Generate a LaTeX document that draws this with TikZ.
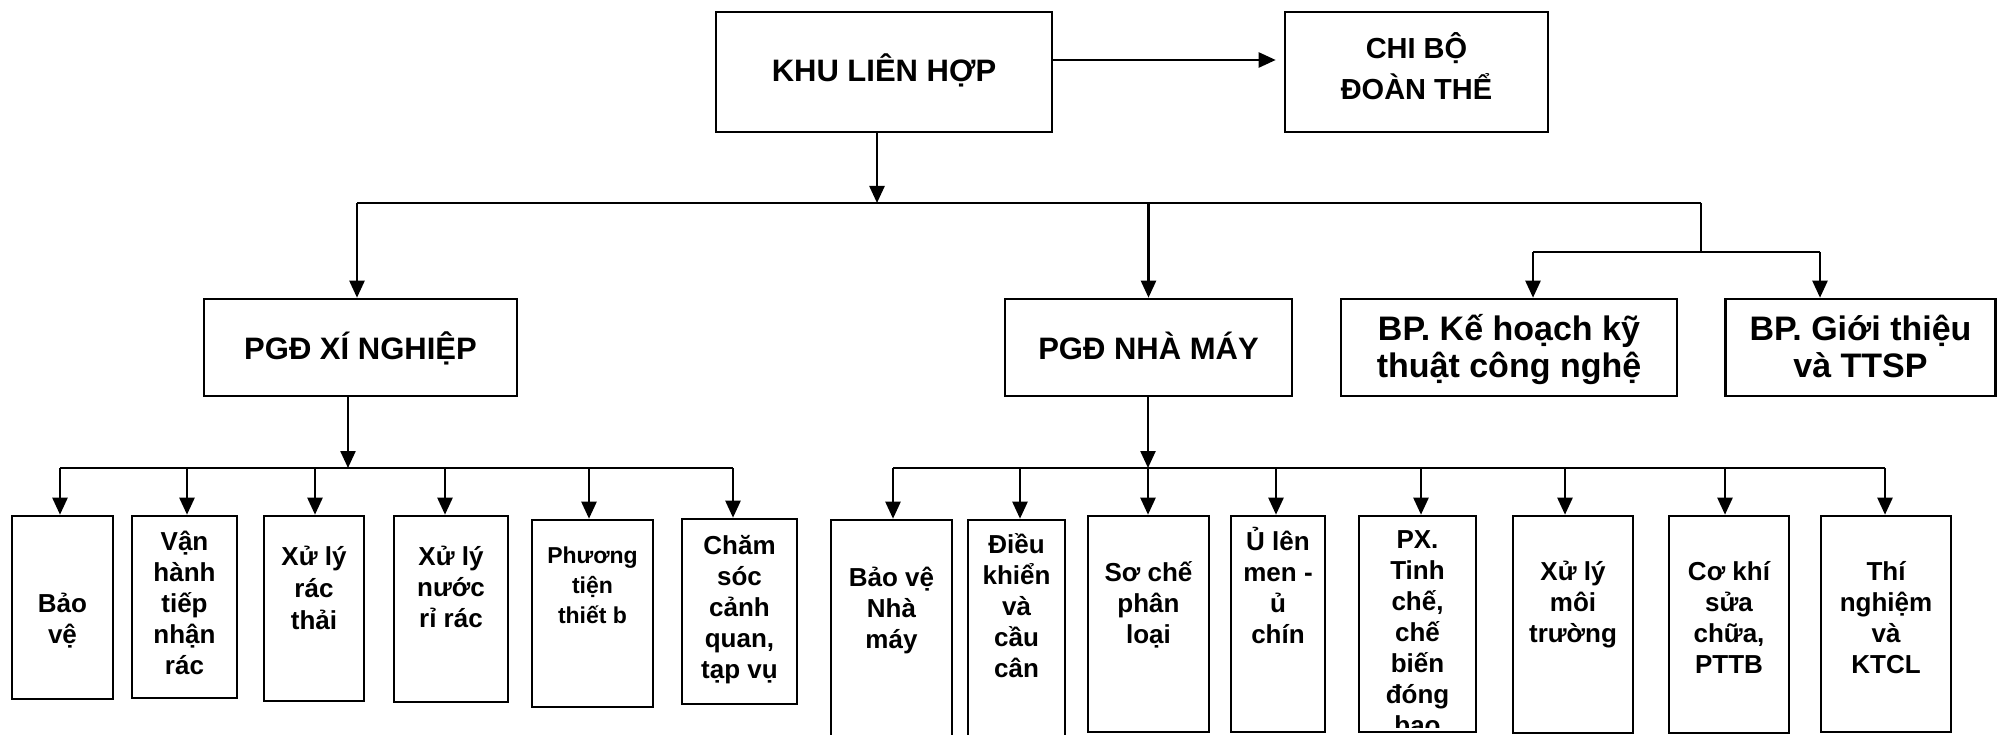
\documentclass[tikz,border=0pt]{standalone}
\usepackage{fontspec}
\setmainfont{Liberation Sans}
\usetikzlibrary{arrows.meta}
\tikzset{
  box/.style={draw, line width=2.6pt, rectangle, inner sep=0pt},
  conn/.style={line width=2.4pt},
  arr/.style={conn, -{Triangle[width=15pt,length=17pt]}},
  lbl/.style={font=\bfseries\fontsize{26}{31}\selectfont, align=center, anchor=base, inner sep=0pt},
  small/.style={font=\bfseries\fontsize{23}{30}\selectfont, align=center, anchor=base, inner sep=0pt},
  big/.style={font=\bfseries\fontsize{31}{36}\selectfont, align=center, anchor=base, inner sep=0pt},
  bp/.style={font=\bfseries\fontsize{34}{37}\selectfont, align=center, anchor=base, inner sep=0pt},
}
\begin{document}
\begin{tikzpicture}[x=1pt,y=-1pt]
\useasboundingbox (0,0) rectangle (1997,735);
\clip (0,0) rectangle (1997,735);
% level 1
\node[box, minimum width=336pt, minimum height=120pt] (khu) at (884,72) {};
\node[big] (khuT) at (884,82) {KHU LIÊN HỢP};
\node[box, minimum width=263pt, minimum height=120pt] (chi) at (1416.5,72) {};
\node[font=\bfseries\fontsize{29}{41}\selectfont, align=center, anchor=base, inner sep=0pt] (chiT) at (1416.5,100) {CHI BỘ\\ĐOÀN THỂ};
% level 2
\node[box, minimum width=313pt, minimum height=97pt] (xn) at (360.5,347.5) {};
\node[big] (xnT) at (360.5,359) {PGĐ XÍ NGHIỆP};
\node[box, minimum width=287pt, minimum height=97pt] (nm) at (1148.5,347.5) {};
\node[big] (nmT) at (1148.5,359) {PGĐ NHÀ MÁY};
\node[box, minimum width=336pt, minimum height=97pt] (kh) at (1509,347.5) {};
\node[bp] (khT) at (1509,377) {BP. Kế hoạch kỹ\\thuật công nghệ};
\node[box, minimum width=270pt, minimum height=97pt] (gt) at (1860.5,347.5) {};
\node[bp] (gtT) at (1860.5,377) {BP. Giới thiệu\\và TTSP};
% level 3 left
\node[box, minimum width=101pt, minimum height=183pt] (a1) at (62.5,607.5) {};
\node[lbl] (a1T) at (62.5,643) {Bảo\\vệ};
\node[box, minimum width=105pt, minimum height=182pt] (a2) at (184.5,607) {};
\node[lbl] (a2T) at (184.5,674) {Vận\\hành\\tiếp\\nhận\\rác};
\node[box, minimum width=100pt, minimum height=185pt] (a3) at (314,608.5) {};
\node[lbl, font=\bfseries\fontsize{26}{32}\selectfont] (a3T) at (314,629) {Xử lý\\rác\\thải};
\node[box, minimum width=114pt, minimum height=186pt] (a4) at (451,609) {};
\node[lbl] (a4T) at (451,627) {Xử lý\\nước\\rỉ rác};
\node[box, minimum width=121pt, minimum height=187pt] (a5) at (592.5,613.5) {};
\node[small] (a5T) at (592.5,623) {Phương\\tiện\\thiết b};
\node[box, minimum width=115pt, minimum height=185pt] (a6) at (739.5,611.5) {};
\node[lbl] (a6T) at (739.5,678) {Chăm\\sóc\\cảnh\\quan,\\tạp vụ};
% level 3 right
\node[box, minimum width=121pt, minimum height=260pt] (b1) at (891.5,650) {};
\node[lbl] (b1T) at (891.5,648) {Bảo vệ\\Nhà\\máy};
\node[box, minimum width=97pt, minimum height=260pt] (b2) at (1016.5,650) {};
\node[lbl] (b2T) at (1016.5,677) {Điều\\khiển\\và\\cầu\\cân};
\node[box, minimum width=121pt, minimum height=216pt] (b3) at (1148.5,624) {};
\node[lbl] (b3T) at (1148.5,643) {Sơ chế\\phân\\loại};
\node[box, minimum width=94pt, minimum height=216pt] (b4) at (1278,624) {};
\node[lbl] (b4T) at (1278,643) {Ủ lên\\men -\\ủ\\chín};
\node[box, minimum width=117pt, minimum height=216pt] (b5) at (1417.5,624) {};
\begin{scope}
\clip (1362,518) rectangle (1474,727);
\node[lbl] (b5T) at (1417.5,734) {PX.\\Tinh\\chế,\\chế\\biến\\đóng\\bao};
\end{scope}
\node[box, minimum width=120pt, minimum height=217pt] (b6) at (1573,624.5) {};
\node[lbl] (b6T) at (1573,642) {Xử lý\\môi\\trường};
\node[box, minimum width=120pt, minimum height=217pt] (b7) at (1729,624.5) {};
\node[lbl] (b7T) at (1729,673) {Cơ khí\\sửa\\chữa,\\PTTB};
\node[box, minimum width=130pt, minimum height=216pt] (b8) at (1886,624) {};
\node[lbl] (b8T) at (1886,673) {Thí\\nghiệm\\và\\KTCL};
% connectors top
\draw[arr, shorten >=8pt] ([yshift=12pt]khu.east) -- ([yshift=12pt]chi.west);
\coordinate (busL) at (357,203);
\coordinate (busR) at (1701,203);
\draw[arr] ([xshift=-7pt]khu.south) -- ([xshift=-7pt]khu.south |- busL);
\draw[conn] (busL) -- (busR);
\draw[arr] (busL) -- (busL |- xn.north);
\draw[arr] (nm.north |- busL) -- (nm.north);
\coordinate (bus2) at (1701,252);
\draw[conn] (busR) -- (bus2);
\coordinate (k1) at (1533,252);
\coordinate (k2) at (1820,252);
\draw[conn] (k1) -- (k2);
\draw[arr] (k1) -- (k1 |- kh.north);
\draw[arr] (k2) -- (k2 |- gt.north);
% left subtree
\coordinate (xb) at (348,468);
\draw[arr] (xb |- xn.south) -- (xb);
\draw[conn] (60,468) coordinate (lA) -- (733,468) coordinate (lB);
\foreach \x/\n in {60/a1,187/a2,315/a3,445/a4,589/a5,733/a6}{
  \draw[arr] (\x,468) -- (\x,0 |- \n.north);
}
% right subtree
\coordinate (nb) at (1148,468);
\draw[arr] (nb |- nm.south) -- (nb);
\draw[conn] (893,468) coordinate (rA) -- (1885,468) coordinate (rB);
\foreach \x/\n in {893/b1,1020/b2,1148/b3,1276/b4,1421/b5,1565/b6,1725/b7,1885/b8}{
  \draw[arr] (\x,468) -- (\x,0 |- \n.north);
}
\end{tikzpicture}
\end{document}
